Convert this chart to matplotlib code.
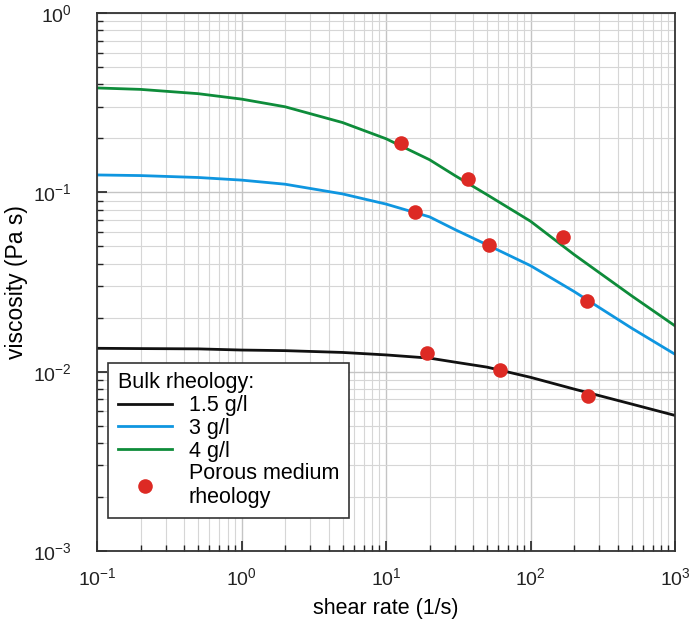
import numpy as np
import matplotlib
matplotlib.use("Agg")
import matplotlib.pyplot as plt
from matplotlib.ticker import LogLocator, NullFormatter

plt.rcParams['font.family'] = ['Liberation Sans', 'DejaVu Sans']
plt.rcParams['mathtext.fontset'] = 'custom'
plt.rcParams['mathtext.rm'] = 'Liberation Sans'

# bulk rheology curves
shear = [0.1, 0.2, 0.5, 1, 2, 5, 10, 20, 30, 50, 100, 200, 500, 1000]
visc_15 = [0.0135, 0.01345, 0.0134, 0.0132, 0.0131, 0.0128, 0.0124, 0.0119,
           0.0113, 0.0106, 0.0093, 0.0080, 0.0066, 0.0057]
visc_3 = [0.125, 0.124, 0.121, 0.117, 0.111, 0.098, 0.086, 0.073,
          0.062, 0.051, 0.039, 0.028, 0.0175, 0.0125]
visc_4 = [0.382, 0.375, 0.355, 0.331, 0.300, 0.245, 0.199, 0.152,
          0.124, 0.097, 0.069, 0.045, 0.0265, 0.018]

# porous medium points
pm_shear = [12.7, 36.9, 168, 15.9, 51.6, 246, 19.2, 61.5, 250]
pm_visc = [0.188, 0.119, 0.0563, 0.0777, 0.0508, 0.0248, 0.0127, 0.0102, 0.0073]

fig = plt.figure(figsize=(6.91, 6.37), dpi=100)
ax = fig.add_axes([0.1404, 0.135, 0.8365, 0.8446])

ax.plot(shear, visc_15, color='#111111', lw=2, label='1.5 g/l')
ax.plot(shear, visc_3, color='#0f96e0', lw=2, label='3 g/l')
ax.plot(shear, visc_4, color='#0e8c3a', lw=2, label='4 g/l')
ax.plot(pm_shear, pm_visc, 'o', color='#dd2a24', ms=10.5, mec='none',
        label='Porous medium\nrheology', zorder=5)

ax.set_xscale('log')
ax.set_yscale('log')
ax.set_xlim(0.1, 1000)
ax.set_ylim(1e-3, 1)

ax.xaxis.set_major_locator(LogLocator(base=10, numticks=10))
ax.yaxis.set_major_locator(LogLocator(base=10, numticks=10))
ax.xaxis.set_minor_locator(LogLocator(base=10, subs=np.arange(2, 10), numticks=20))
ax.yaxis.set_minor_locator(LogLocator(base=10, subs=np.arange(2, 10), numticks=20))
ax.xaxis.set_minor_formatter(NullFormatter())
ax.yaxis.set_minor_formatter(NullFormatter())

ax.grid(True, which='major', color='#c4c4c4', lw=1.0)
ax.grid(True, which='minor', color='#d6d6d6', lw=0.8)
ax.set_axisbelow(True)

ax.tick_params(which='major', direction='in', length=7, width=1.2, labelsize=14,
               colors='#222222')
ax.tick_params(which='minor', direction='in', length=4, width=1.0, colors='#222222')
ax.tick_params(axis='y', which='major', pad=18)
ax.tick_params(axis='x', which='major', pad=12)
for s in ax.spines.values():
    s.set_color('#333333')
    s.set_linewidth(1.3)

ax.set_xlabel('shear rate (1/s)', fontsize=15.5, labelpad=6)
ax.set_ylabel('viscosity (Pa s)', fontsize=16.5, labelpad=4)

leg = ax.legend(title='Bulk rheology:', loc='lower left',
                bbox_to_anchor=(0.019, 0.061), borderaxespad=0,
                fontsize=15.5, title_fontsize=15.5,
                frameon=True, fancybox=False, edgecolor='#333333',
                alignment='left', handlelength=2.5, handletextpad=0.8,
                labelspacing=0.08, borderpad=0.45)
leg.get_frame().set_linewidth(1.2)
leg.get_frame().set_alpha(1)

fig.savefig('out.png', dpi=100)
